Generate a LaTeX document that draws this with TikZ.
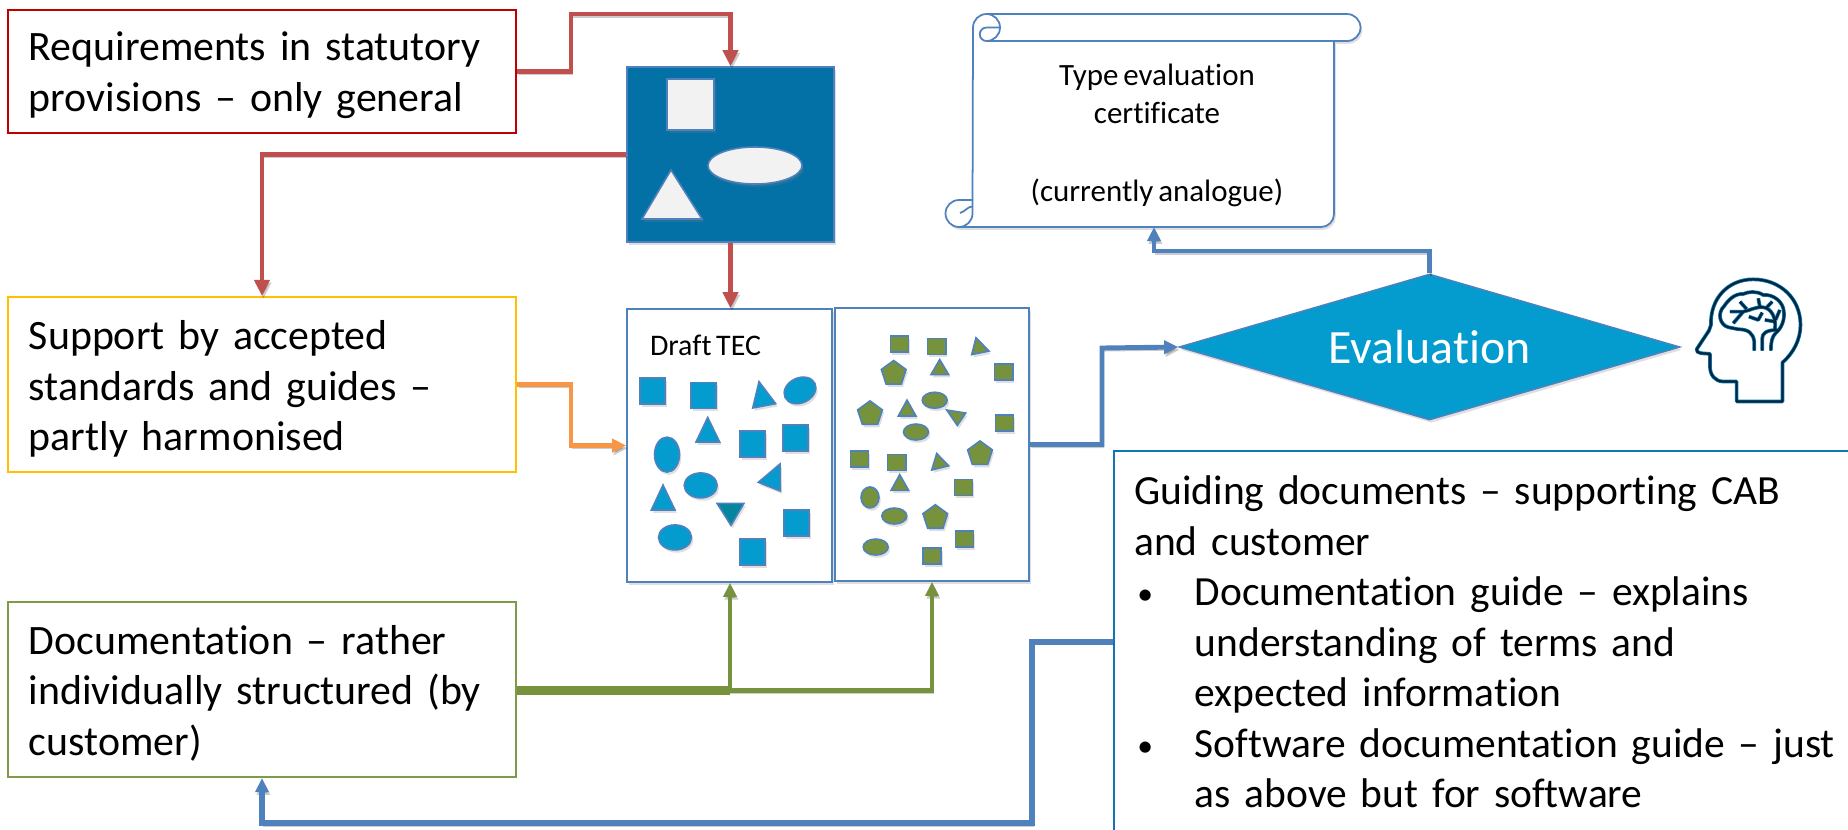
\documentclass[tikz,border=0pt]{standalone}
\usepackage{fontspec}
\setmainfont{Carlito}[Ligatures=NoCommon,WordSpace=0.7]
\usetikzlibrary{arrows.meta,shapes.geometric,shadows}
\definecolor{reqred}{HTML}{C00000}
\definecolor{supyellow}{HTML}{FFC000}
\definecolor{docgreen}{HTML}{7F9A48}
\definecolor{linered}{HTML}{C0504D}
\definecolor{lineorange}{HTML}{F79646}
\definecolor{lineblue}{HTML}{4F81BD}
\definecolor{linegreen}{HTML}{76923C}
\definecolor{deepblue}{HTML}{0471A6}
\definecolor{midblue}{HTML}{049CCF}
\definecolor{tealtri}{HTML}{05869F}
\definecolor{guideblue}{HTML}{0F76B5}
\definecolor{headdark}{HTML}{00283C}
\newcommand{\smallbullet}{\makebox[.605cm][l]{\hspace*{.03cm}\fontsize{9}{9}\selectfont\raisebox{.25pt}{\textbullet}}}
\tikzset{
  shade/.style={drop shadow={shadow xshift=.5pt,shadow yshift=-.8pt,opacity=.25}},
  textbox/.style={draw,fill=white,line width=.6pt,inner xsep=.21cm,inner ysep=0pt,align=left,
    font=\fontsize{11.9}{14.35}\selectfont},
  connector/.style={line width=1.4pt,
    preaction={draw=black,opacity=.2,transform canvas={xshift=.4pt,yshift=-.8pt}}},
  bigtip/.style={-{Triangle[length=.16cm,width=.15cm]}},
  smalltip/.style={-{Triangle[length=.14cm,width=.13cm]}},
  outline/.style={draw=lineblue,line width=.45pt},
  sheet/.style={outline,fill=white,shade,inner sep=0pt},
  tecsquare/.style={outline,fill=midblue,shade,minimum width=.25cm,minimum height=.26cm,inner sep=0pt},
  tecellipse/.style={ellipse,outline,fill=midblue,shade,inner sep=0pt},
  gsquare/.style={outline,fill=linegreen,shade,minimum width=.18cm,minimum height=.16cm,inner sep=0pt},
  gellipse/.style={ellipse,outline,fill=linegreen,shade,inner sep=0pt,minimum width=.25cm,minimum height=.16cm},
  gpenta/.style={regular polygon,regular polygon sides=5,outline,fill=linegreen,shade,inner sep=0pt,minimum size=.26cm},
  lightshape/.style={outline,fill=black!5,shade,inner sep=0pt},
  headhalo/.style={draw=guideblue,line width=1.05pt,line join=round},
  headline/.style={draw=headdark,line width=.62pt,line join=round}
}
\begin{document}
\begin{tikzpicture}[x=.01cm,y=-.01cm]
  \clip (0,0) rectangle (1848,829);
  % boxes on the left
  \node[textbox,draw=reqred,minimum height=1.23cm,text width=4.66cm](req) at (262,71.5)
    {\rule{0pt}{10.4pt}Requirements in statutory\\provisions -- only general};
  \node[textbox,draw=supyellow,minimum height=1.75cm,text width=4.66cm](support) at (262,384.5)
    {\rule{0pt}{10.8pt}Support by accepted\\standards and guides --\\partly harmonised};
  \node[textbox,draw=docgreen,minimum height=1.75cm,text width=4.66cm](doc) at (262,689.5)
    {\rule{0pt}{10.2pt}Documentation -- rather\\individually structured (by\\customer)};
  % concept box
  \node[fill=deepblue,outline,shade,minimum width=2.07cm,minimum height=1.75cm,inner sep=0pt](concept) at (730.5,154.5) {};
  \node[lightshape,minimum width=.47cm,minimum height=.51cm](csquare) at (690.5,104.5) {};
  \node[lightshape,ellipse,minimum width=.94cm,minimum height=.37cm](cellipse) at (755,165.5) {};
  \draw[lightshape] (671,170) -- (702,219) -- (642,219) -- cycle;
  % the two sheets
  \node[sheet,minimum width=2.05cm,minimum height=2.73cm](draft) at (729.5,445.5) {};
  \node[sheet,minimum width=1.94cm,minimum height=2.73cm](second) at (932,444.5) {};
  \node[font=\fontsize{8.5}{10}\selectfont](drafttext) at (705.5,345) {Draft TEC};
  \foreach \x/\y [count=\i] in {652.3/391,703.7/395.6,752.3/443.7,795.7/437.7,796.7/523,752.3/551.8}
    \node[tecsquare](ts\i) at (\x,\y) {};
  \foreach \xa/\ya/\xb/\yb/\xc/\yc in {759/381.6/775.7/403.7/752.7/408,707.7/417.4/696/442/719.7/442,
      780/464/758.3/482.3/780.3/491,663/485/651.3/510/675/510}
    \draw[outline,fill=midblue,shade] (\xa,\ya) -- (\xb,\yb) -- (\xc,\yc) -- cycle;
  \draw[outline,fill=tealtri,shade] (717,503.3) -- (744,503.3) -- (731,525.4) -- cycle;
  \node[tecellipse,rotate=25,minimum width=.33cm,minimum height=.25cm](te1) at (800,390.4) {};
  \node[tecellipse,minimum width=.25cm,minimum height=.35cm](te2) at (667,454.6) {};
  \node[tecellipse,minimum width=.33cm,minimum height=.25cm](te3) at (700.7,485.4) {};
  \node[tecellipse,minimum width=.33cm,minimum height=.25cm](te4) at (675,537.4) {};
  \foreach \x/\y [count=\i] in {899.3/344,936.7/346.5,1003.7/371.8,1004.3/423,859.3/459,896.7/462.3,963.3/487.5,964.3/538.8,932/556}
    \node[gsquare](gs\i) at (\x,\y) {};
  \foreach \xa/\ya/\xb/\yb/\xc/\yc in {976/337.7/989/351/971.7/354.6,939.7/359.5/931/374.6/948.7/374.6,
      907/400/898.3/416/916/416,946.7/410/965.7/413/957.3/425.4,936.7/453.5/931.7/470/948.7/465.8,
      899.7/474.6/891/490.4/908.7/490.4}
    \draw[outline,fill=linegreen,shade] (\xa,\ya) -- (\xb,\yb) -- (\xc,\yc) -- cycle;
  \foreach \x/\y [count=\i] in {893.7/373.5,870/413.9,980/453.9,935.3/517.7}
    \node[gpenta](gp\i) at (\x,\y) {};
  \foreach \x/\y [count=\i] in {934.7/400.2,916/432,894.3/516,875.7/547}
    \node[gellipse](ge\i) at (\x,\y) {};
  \node[gellipse,minimum width=.18cm,minimum height=.21cm](ge5) at (870,497.4) {};
  % certificate
  \path[fill=white,shade] (986.5,14) -- (1347,14) arc (270:450:13.5) -- (1334,41) -- (1334,214)
    arc (0:90:13) -- (959,227) arc (90:270:13.5) -- (973,200) -- (973,27.5) arc (180:270:13.5) -- cycle;
  \draw[outline,line width=.5pt] (986.5,14) -- (1347,14) arc (270:450:13.5) -- (986.5,41);
  \draw[outline,line width=.5pt] (1334,41) -- (1334,214) arc (0:90:13) -- (959,227) arc (90:270:13.5) -- (973,200);
  \draw[outline,line width=.5pt] (959,227) arc (90:0:13.5) -- (973,27.5) arc (180:270:13.5) arc (270:450:13.5)
    arc (90:270:6.75) -- (1000,27.5);
  \draw[outline,line width=.5pt] (973,206.5) .. controls (968,206) and (966,211) .. (960,213);
  \node[align=center,font=\fontsize{8.8}{11}\selectfont](scroll) at (1157,135)
    {Type evaluation\\certificate\\~\\(currently analogue)};
  \coordinate (scrollin) at (1154,227);
  % evaluation
  \node[diamond,aspect=3.43,fill=midblue,draw=lineblue,line width=.4pt,shade,minimum width=5.01cm,minimum height=1.46cm,
    inner sep=0pt,text=white,font=\fontsize{13.6}{15}\selectfont](eval) at (1429.5,347) {Evaluation};
  % guiding documents
  \node[textbox,draw=guideblue,line width=.7pt,anchor=north west,minimum height=3.81cm,text width=7.6cm,inner xsep=.2cm,
    font=\fontsize{11.8}{14.35}\selectfont](guide) at (1113,450)
    {Guiding documents -- supporting CAB\\and customer\\
     \smallbullet Documentation guide -- explains\\
     \hspace*{.605cm}understanding of terms and\\
     \hspace*{.605cm}expected information\\
     \smallbullet Software documentation guide -- just\\
     \hspace*{.605cm}as above but for software};
  % head
  \begin{scope}[shift={(1685,270)},x=.00333cm,y=-.00333cm]
    \foreach \st in {headhalo,headline}{
      \draw[\st] (293,395) -- (293,278) .. controls (325,250) and (347,210) .. (347,165)
        .. controls (347,85) and (285,28) .. (205,28) .. controls (130,28) and (75,85) .. (78,165)
        -- (72,182) -- (35,238) .. controls (32,245) and (40,248) .. (48,250) -- (75,252) -- (75,290)
        .. controls (75,315) and (90,335) .. (115,335) -- (155,335) -- (155,395) -- cycle;
      \draw[\st] (208,242) -- (208,215) .. controls (205,190) and (190,178) .. (160,178) -- (130,172)
        .. controls (105,165) and (95,130) .. (118,108) .. controls (130,90) and (150,70) .. (175,72)
        .. controls (190,65) and (215,62) .. (235,75) .. controls (265,72) and (295,95) .. (297,125)
        .. controls (300,150) and (290,175) .. (272,190) .. controls (262,200) and (258,215) .. (258,242);
      \draw[\st] (232,242) -- (232,205) .. controls (232,190) and (245,180) .. (278,180);
      \draw[\st] (135,125) -- (175,125) .. controls (195,122) and (210,110) .. (235,112)
        .. controls (260,115) and (275,145) .. (270,178);
      \draw[\st] (165,95) -- (185,117);
      \draw[\st] (145,160) -- (175,125);
      \draw[\st] (220,85) -- (225,110);
      \draw[\st] (262,95) -- (245,113);
      \draw[\st] (192,140) -- (220,150) -- (232,128);
      \draw[\st] (285,120) -- (272,150);
      \draw[\st] (240,150) -- (270,155);
    }
  \end{scope}
  % connectors
  \draw[connector,bigtip,linered] (req.east) -| (571,14) -| (concept.north);
  \draw[connector,bigtip,linered] (concept.west) -| (support.north);
  \draw[connector,bigtip,linered] (concept.south) -- (concept.south |- draft.north);
  \draw[connector,smalltip,lineorange] (support.east) -| (571,445.5) -- (draft.west);
  \draw[connector,smalltip,lineblue] (second.east) -| (1102,348) -- (eval.west);
  \draw[connector,smalltip,lineblue] (eval.north) |- (1154,251) -- (scrollin);
  \coordinate (docjoin) at (730,690.5);
  \draw[connector,line width=2.3pt,linegreen] (doc.east |- docjoin) -- (docjoin);
  \draw[connector,smalltip,linegreen] (docjoin) -- (docjoin |- draft.south);
  \draw[connector,smalltip,linegreen] (docjoin) -| (second.south);
  \draw[connector,line width=1.6pt,smalltip,lineblue] (guide.west) -| (1032,823) -| (doc.south);
\end{tikzpicture}
\end{document}
